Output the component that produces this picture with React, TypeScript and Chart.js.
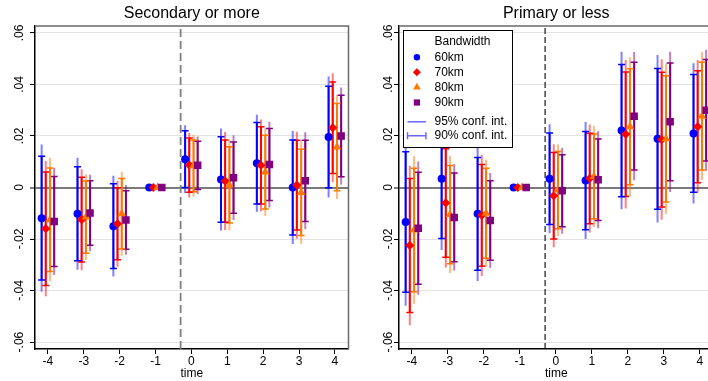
import React, { useEffect, useRef } from 'react';
import { Chart, registerables } from 'chart.js';

Chart.register(...registerables);
Chart.defaults.font.family = '"Liberation Sans", Arial, sans-serif';
Chart.defaults.color = '#000';

// ---------- data ----------
const times = [-4, -3, -2, -1, 0, 1, 2, 3, 4];
const xTickValues = [-4, -3, -2, -1, 0, 1, 2, 3, 4];
const yTickValues = [-0.06, -0.04, -0.02, 0, 0.02, 0.04, 0.06];
const bandwidths = ['60km', '70km', '80km', '90km'];
const panelTitles = ['Secondary or more', 'Primary or less'];
const ciLabels = ['95% conf. int.', '90% conf. int.'];
const legendTitle = 'Bandwidth';
const treatmentLine = -0.3;

// Secondary or more: point estimates and standard errors
const secEst60 = [-0.0119, -0.0102, -0.0150, 0, 0.0110, 0.0031, 0.0094, 0.0000, 0.0196];
const secSe60 = [0.0146, 0.0111, 0.0100, null, 0.0067, 0.0101, 0.0096, 0.0112, 0.0120];
const secEst70 = [-0.0160, -0.0125, -0.0141, 0, 0.0087, 0.0025, 0.0086, 0.0009, 0.0232];
const secSe70 = [0.0134, 0.0100, 0.0085, null, 0.0064, 0.0097, 0.0091, 0.0106, 0.0108];
const secEst80 = [-0.0125, -0.0115, -0.0102, 0, 0.0084, 0.0010, 0.0060, -0.0019, 0.0157];
const secSe80 = [0.0122, 0.0085, 0.0083, null, 0.0061, 0.0090, 0.0087, 0.0102, 0.0103];
const secEst90 = [-0.0132, -0.0099, -0.0126, 0, 0.0086, 0.0038, 0.0089, 0.0026, 0.0200];
const secSe90 = [0.0106, 0.0076, 0.0069, null, 0.0057, 0.0084, 0.0085, 0.0096, 0.0096];

// Primary or less: point estimates and standard errors
const priEst60 = [-0.0134, 0.0034, -0.0102, 0, 0.0034, 0.0027, 0.0221, 0.0189, 0.0210];
const priSe60 = [0.0166, 0.0141, 0.0133, null, 0.0108, 0.0116, 0.0156, 0.0166, 0.0139];
const priEst70 = [-0.0225, -0.0060, -0.0108, 0, -0.0032, 0.0035, 0.0207, 0.0186, 0.0236];
const priSe70 = [0.0158, 0.0128, 0.0120, null, 0.0102, 0.0107, 0.0147, 0.0159, 0.0132];
const priEst80 = [-0.0165, -0.0105, -0.0100, 0, -0.0010, 0.0043, 0.0236, 0.0189, 0.0277];
const priSe80 = [0.0146, 0.0116, 0.0106, null, 0.0091, 0.0100, 0.0137, 0.0149, 0.0127];
const priEst90 = [-0.0158, -0.0116, -0.0128, 0, -0.0013, 0.0030, 0.0277, 0.0255, 0.0300];
const priSe90 = [0.0132, 0.0105, 0.0094, null, 0.0085, 0.0096, 0.0127, 0.0139, 0.0120];

const panelEsts = [
  [secEst60, secEst70, secEst80, secEst90],
  [priEst60, priEst70, priEst80, priEst90],
];
const panelSes = [
  [secSe60, secSe70, secSe80, secSe90],
  [priSe60, priSe70, priSe80, priSe90],
];

// ---------- styles ----------
const Z90 = 1.645;
const Z95 = 1.96;
const colors = ['rgb(0,0,255)', 'rgb(255,0,0)', 'rgb(255,120,0)', 'rgb(128,0,128)'];
const fadedColors = ['rgba(0,0,255,0.5)', 'rgba(255,0,0,0.5)', 'rgba(255,120,0,0.5)', 'rgba(128,0,128,0.5)'];
const pointStyles = ['circle', 'rectRot', 'triangle', 'rect'];
const pointRadii = [4, 4.6, 5, 5.3];
const xOffsets = [-0.175, -0.06, 0.06, 0.175];
const X_MIN = -4.36;
const X_MAX = 4.38;
const Y_MIN = -0.0627;
const Y_MAX = 0.0627;
const FONT = '"Liberation Sans", Arial, sans-serif';

function fmtY(v: number) {
  if (Math.abs(v) < 1e-9) return '0';
  const s = Math.abs(v).toFixed(2).replace(/^0/, '');
  return (v < 0 ? '-' : '') + s;
}

function ciPoints(est: number[], se: (number | null)[], off: number, z: number) {
  const pts: { x: number; y: number | null }[] = [];
  times.forEach((t, i) => {
    const s = se[i];
    if (s == null) return;
    pts.push({ x: t + off, y: est[i] - z * s });
    pts.push({ x: t + off, y: est[i] + z * s });
    pts.push({ x: t + off, y: null });
  });
  return pts;
}

const framePlugin = {
  id: 'frame',
  afterDatasetsDraw(chart: any) {
    const { ctx, chartArea: a } = chart;
    ctx.save();
    ctx.strokeStyle = '#6a6a6a';
    ctx.lineWidth = 1.5;
    ctx.beginPath();
    ctx.moveTo(a.left, a.top);
    ctx.lineTo(a.right, a.top);
    ctx.lineTo(a.right, a.bottom);
    ctx.stroke();
    ctx.restore();
  },
};

function drawMarker(ctx: CanvasRenderingContext2D, style: string, x: number, y: number, r: number) {
  ctx.beginPath();
  if (style === 'circle') {
    ctx.arc(x, y, r, 0, Math.PI * 2);
  } else if (style === 'rectRot') {
    ctx.moveTo(x - r, y);
    ctx.lineTo(x, y - r);
    ctx.lineTo(x + r, y);
    ctx.lineTo(x, y + r);
    ctx.closePath();
  } else if (style === 'triangle') {
    ctx.moveTo(x, y - r);
    ctx.lineTo(x + r * 0.866, y + r * 0.5);
    ctx.lineTo(x - r * 0.866, y + r * 0.5);
    ctx.closePath();
  } else {
    ctx.rect(x - r * 0.707, y - r * 0.707, r * 1.414, r * 1.414);
  }
  ctx.fill();
}

const legendPlugin = {
  id: 'bwLegend',
  afterDraw(chart: any) {
    const { ctx, chartArea: a } = chart;
    const x0 = Math.round(a.left + 4) + 0.5;
    const y0 = Math.round(a.top + 4) + 0.5;
    const w = 109;
    const h = 117;
    ctx.save();
    ctx.fillStyle = '#fff';
    ctx.fillRect(x0, y0, w, h);
    ctx.strokeStyle = '#000';
    ctx.lineWidth = 1;
    ctx.strokeRect(x0, y0, w, h);
    ctx.font = '12px ' + FONT;
    ctx.fillStyle = '#000';
    ctx.textBaseline = 'middle';
    ctx.textAlign = 'left';
    const textX = x0 + 31;
    const markX = x0 + 13.4;
    ctx.fillText(legendTitle, textX, y0 + 10.7);
    const rowY = [26.7, 41.7, 56.7, 72];
    bandwidths.forEach((b, i) => {
      ctx.fillStyle = colors[i];
      const r = [3.2, 4, 4.4, 4.4][i];
      drawMarker(ctx, pointStyles[i], markX, y0 + rowY[i], r);
      ctx.fillStyle = '#000';
      ctx.fillText(b, textX, y0 + rowY[i]);
    });
    const ciY = [91.3, 105.3];
    ctx.strokeStyle = 'rgba(40,40,255,0.7)';
    ctx.lineWidth = 1.5;
    ciY.forEach((yy, i) => {
      const y = y0 + yy;
      ctx.beginPath();
      ctx.moveTo(x0 + 4, y);
      ctx.lineTo(x0 + 22.4, y);
      if (i === 1) {
        ctx.moveTo(x0 + 4, y - 3.5);
        ctx.lineTo(x0 + 4, y + 3.5);
        ctx.moveTo(x0 + 22.4, y - 3.5);
        ctx.lineTo(x0 + 22.4, y + 3.5);
      }
      ctx.stroke();
      ctx.fillStyle = '#000';
      ctx.fillText(ciLabels[i], textX, y);
    });
    ctx.restore();
  },
};

function makeConfig(p: number): any {
  const datasets: any[] = [];
  datasets.push({
    type: 'line',
    data: [
      { x: treatmentLine, y: Y_MIN },
      { x: treatmentLine, y: Y_MAX },
    ],
    borderColor: p === 0 ? '#808080' : '#000',
    borderWidth: p === 0 ? 1.8 : 1.1,
    borderDash: p === 0 ? [8, 4] : [6, 3],
    pointRadius: 0,
    order: 100,
  });
  for (let s = 0; s < 4; s++) {
    const est = panelEsts[p][s];
    const se = panelSes[p][s];
    const off = xOffsets[s];
    datasets.push({
      type: 'line',
      label: bandwidths[s] + ' 95',
      data: ciPoints(est, se, off, Z95),
      borderColor: fadedColors[s],
      borderWidth: 2,
      pointRadius: 0,
      spanGaps: false,
      order: 50 + s,
    });
    datasets.push({
      type: 'line',
      label: bandwidths[s] + ' 90',
      data: ciPoints(est, se, off, Z90),
      borderColor: colors[s],
      borderWidth: 2,
      pointStyle: 'line',
      pointRadius: 3.5,
      pointBorderColor: colors[s],
      pointBorderWidth: 1.5,
      spanGaps: false,
      order: 40 + s,
    });
    datasets.push({
      type: 'line',
      label: bandwidths[s],
      data: times.map((t, i) => ({ x: t + off, y: est[i] })),
      showLine: false,
      pointStyle: pointStyles[s],
      pointRadius: pointRadii[s],
      pointBackgroundColor: colors[s],
      pointBorderWidth: 0,
      order: 20 - s,
    });
  }

  return {
    type: 'line',
    data: { datasets },
    options: {
      responsive: false,
      animation: false,
      events: [],
      layout: { padding: { left: 0, right: 1, top: 0, bottom: 0 } },
      plugins: {
        legend: { display: false },
        tooltip: { enabled: false },
        title: { display: false },
      },
      scales: {
        x: {
          type: 'linear',
          position: 'bottom',
          min: X_MIN,
          max: X_MAX,
          afterBuildTicks: (sc: any) => {
            sc.ticks = xTickValues.map((v) => ({ value: v }));
          },
          afterFit: (sc: any) => {
            sc.height = 32;
          },
          ticks: {
            font: { size: 12 },
            color: '#000',
            padding: 0,
            maxRotation: 0,
            callback: (v: any) => String(v),
          },
          grid: {
            drawOnChartArea: false,
            drawTicks: true,
            tickLength: 5,
            tickColor: '#000',
            tickWidth: 1,
          },
          border: { color: '#000', width: 1.5 },
          title: {
            display: true,
            text: 'time',
            font: { size: 12 },
            color: '#000',
            padding: 0,
          },
        },
        xTop: {
          type: 'linear',
          position: 'top',
          min: X_MIN,
          max: X_MAX,
          afterFit: (sc: any) => {
            sc.height = 26;
          },
          ticks: { display: false },
          grid: { display: false },
          border: { display: false },
          title: {
            display: true,
            text: panelTitles[p],
            font: { size: 16 },
            color: '#000',
            padding: { top: 4, bottom: 3 },
          },
        },
        y: {
          type: 'linear',
          position: 'left',
          min: Y_MIN,
          max: Y_MAX,
          afterBuildTicks: (sc: any) => {
            sc.ticks = yTickValues.map((v) => ({ value: v }));
          },
          afterFit: (sc: any) => {
            sc.width = 35;
          },
          ticks: {
            font: { size: 12 },
            color: '#000',
            minRotation: 90,
            maxRotation: 90,
            crossAlign: 'center',
            padding: p === 0 ? 0 : -5.5,
            callback: (v: any) => fmtY(Number(v)),
          },
          grid: {
            color: (c: any) => (c.tick && Math.abs(c.tick.value) < 1e-9 ? '#7a7a7a' : '#e3e3e3'),
            lineWidth: (c: any) => (c.tick && Math.abs(c.tick.value) < 1e-9 ? 2 : 1),
            drawTicks: true,
            tickLength: 5,
            tickColor: '#000',
            tickWidth: 1,
          },
          border: { color: '#000', width: 1.5 },
        },
      },
    },
    plugins: p === 1 ? [framePlugin, legendPlugin] : [framePlugin],
  };
}

function Panel({ idx, left, width }: { idx: number; left: number; width: number }) {
  const ref = useRef<HTMLCanvasElement>(null);
  useEffect(() => {
    const chart = new Chart(ref.current as HTMLCanvasElement, makeConfig(idx));
    return () => chart.destroy();
  }, [idx]);
  return (
    <canvas
      ref={ref}
      width={width}
      height={381}
      style={{ position: 'absolute', left, top: 0, width, height: 381, display: 'block' }}
    />
  );
}

export default function App() {
  return (
    <div
      style={{
        position: 'fixed',
        left: 0,
        top: 0,
        width: 708,
        height: 381,
        overflow: 'hidden',
        background: '#fff',
      }}
    >
      <Panel idx={0} left={0} width={354} />
      <Panel idx={1} left={364} width={355} />
    </div>
  );
}
